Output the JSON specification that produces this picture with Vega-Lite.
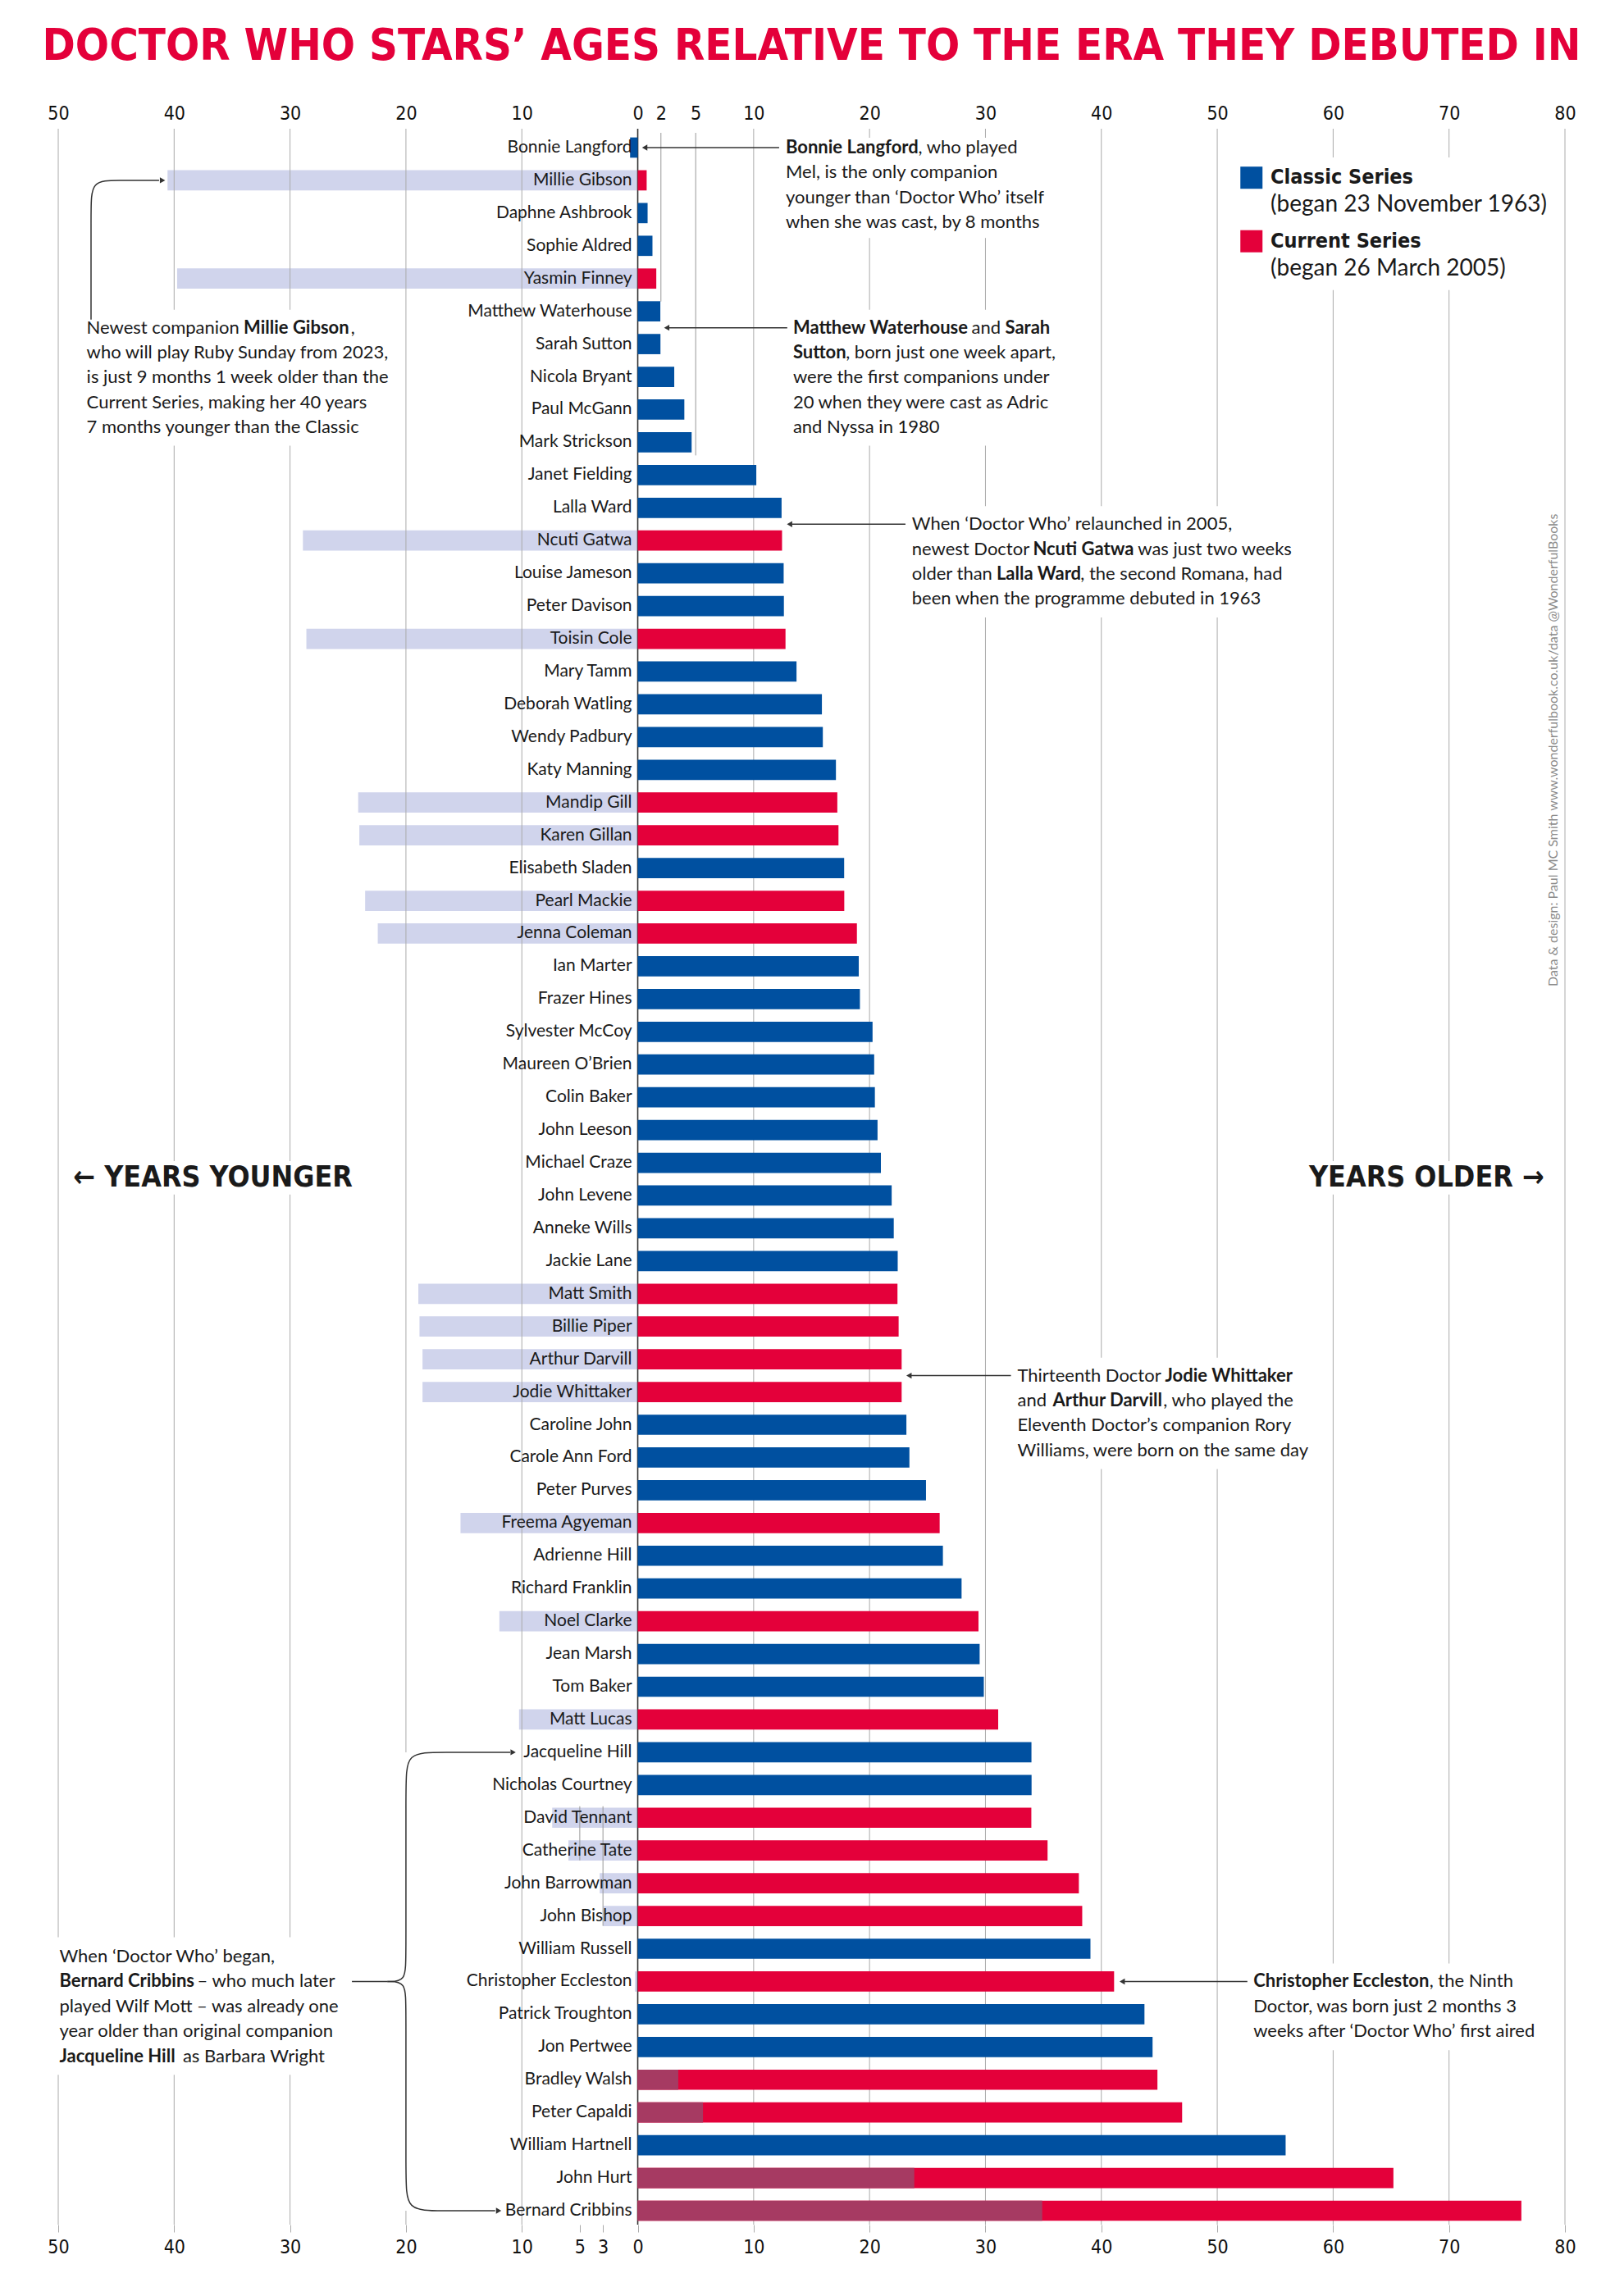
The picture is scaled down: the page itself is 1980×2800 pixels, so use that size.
{
  "$schema": "https://vega.github.io/schema/vega-lite/v6.json",
  "width": 1837,
  "height": 2556,
  "autosize": {"type": "none"},
  "padding": {"left": 71, "top": 157, "right": 72, "bottom": 87},
  "background": "#ffffff",
  "config": {"view": {"stroke": null}, "text": {"font": "Lato"}},
  "title": {
    "text": "DOCTOR WHO STARS’ AGES RELATIVE TO THE ERA THEY DEBUTED IN",
    "font": "DejaVu Sans Condensed, Roboto, sans-serif",
    "fontWeight": "bold",
    "fontSize": 54,
    "color": "#e4003a",
    "anchor": "middle",
    "baseline": "alphabetic",
    "offset": 0
  },
  "datasets": {
    "stars": [
      {"name": "Bonnie Langford", "series": "Classic", "age": -0.66},
      {"name": "Millie Gibson", "series": "Current", "age": 0.77, "vs": -40.57},
      {"name": "Daphne Ashbrook", "series": "Classic", "age": 0.85},
      {"name": "Sophie Aldred", "series": "Classic", "age": 1.27},
      {"name": "Yasmin Finney", "series": "Current", "age": 1.6, "vs": -39.74},
      {"name": "Matthew Waterhouse", "series": "Classic", "age": 1.95},
      {"name": "Sarah Sutton", "series": "Classic", "age": 1.96},
      {"name": "Nicola Bryant", "series": "Classic", "age": 3.15},
      {"name": "Paul McGann", "series": "Classic", "age": 4.02},
      {"name": "Mark Strickson", "series": "Classic", "age": 4.65},
      {"name": "Janet Fielding", "series": "Classic", "age": 10.23},
      {"name": "Lalla Ward", "series": "Classic", "age": 12.41},
      {"name": "Ncuti Gatwa", "series": "Current", "age": 12.45, "vs": -28.89},
      {"name": "Louise Jameson", "series": "Classic", "age": 12.59},
      {"name": "Peter Davison", "series": "Classic", "age": 12.61},
      {"name": "Toisin Cole", "series": "Current", "age": 12.75, "vs": -28.59},
      {"name": "Mary Tamm", "series": "Classic", "age": 13.7},
      {"name": "Deborah Watling", "series": "Classic", "age": 15.89},
      {"name": "Wendy Padbury", "series": "Classic", "age": 15.97},
      {"name": "Katy Manning", "series": "Classic", "age": 17.1},
      {"name": "Mandip Gill", "series": "Current", "age": 17.22, "vs": -24.12},
      {"name": "Karen Gillan", "series": "Current", "age": 17.32, "vs": -24.02},
      {"name": "Elisabeth Sladen", "series": "Classic", "age": 17.81},
      {"name": "Pearl Mackie", "series": "Current", "age": 17.82, "vs": -23.52},
      {"name": "Jenna Coleman", "series": "Current", "age": 18.91, "vs": -22.43},
      {"name": "Ian Marter", "series": "Classic", "age": 19.07},
      {"name": "Frazer Hines", "series": "Classic", "age": 19.17},
      {"name": "Sylvester McCoy", "series": "Classic", "age": 20.26},
      {"name": "Maureen O’Brien", "series": "Classic", "age": 20.4},
      {"name": "Colin Baker", "series": "Classic", "age": 20.46},
      {"name": "John Leeson", "series": "Classic", "age": 20.69},
      {"name": "Michael Craze", "series": "Classic", "age": 20.98},
      {"name": "John Levene", "series": "Classic", "age": 21.91},
      {"name": "Anneke Wills", "series": "Classic", "age": 22.09},
      {"name": "Jackie Lane", "series": "Classic", "age": 22.43},
      {"name": "Matt Smith", "series": "Current", "age": 22.41, "vs": -18.93},
      {"name": "Billie Piper", "series": "Current", "age": 22.51, "vs": -18.83},
      {"name": "Arthur Darvill", "series": "Current", "age": 22.77, "vs": -18.57},
      {"name": "Jodie Whittaker", "series": "Current", "age": 22.77, "vs": -18.57},
      {"name": "Caroline John", "series": "Classic", "age": 23.18},
      {"name": "Carole Ann Ford", "series": "Classic", "age": 23.44},
      {"name": "Peter Purves", "series": "Classic", "age": 24.87},
      {"name": "Freema Agyeman", "series": "Current", "age": 26.05, "vs": -15.29},
      {"name": "Adrienne Hill", "series": "Classic", "age": 26.33},
      {"name": "Richard Franklin", "series": "Classic", "age": 27.94},
      {"name": "Noel Clarke", "series": "Current", "age": 29.4, "vs": -11.94},
      {"name": "Jean Marsh", "series": "Classic", "age": 29.5},
      {"name": "Tom Baker", "series": "Classic", "age": 29.86},
      {"name": "Matt Lucas", "series": "Current", "age": 31.1, "vs": -10.24},
      {"name": "Jacqueline Hill", "series": "Classic", "age": 33.97},
      {"name": "Nicholas Courtney", "series": "Classic", "age": 33.98},
      {"name": "David Tennant", "series": "Current", "age": 33.96, "vs": -7.38},
      {"name": "Catherine Tate", "series": "Current", "age": 35.36, "vs": -5.98},
      {"name": "John Barrowman", "series": "Current", "age": 38.06, "vs": -3.28},
      {"name": "John Bishop", "series": "Current", "age": 38.35, "vs": -2.99},
      {"name": "William Russell", "series": "Classic", "age": 39.06},
      {"name": "Christopher Eccleston", "series": "Current", "age": 41.1, "vs": -0.24},
      {"name": "Patrick Troughton", "series": "Classic", "age": 43.72},
      {"name": "Jon Pertwee", "series": "Classic", "age": 44.42},
      {"name": "Bradley Walsh", "series": "Current", "age": 44.84, "vs": 3.5},
      {"name": "Peter Capaldi", "series": "Current", "age": 46.97, "vs": 5.63},
      {"name": "William Hartnell", "series": "Classic", "age": 55.9},
      {"name": "John Hurt", "series": "Current", "age": 65.2, "vs": 23.86},
      {"name": "Bernard Cribbins", "series": "Current", "age": 76.24, "vs": 34.9}
    ],
    "notes": [
      {"t": "Bonnie Langford", "x": 12.77, "row": 1.0, "b": 1},
      {"t": ", who played", "x": 24.2, "row": 1.0, "b": 0},
      {"t": "Mel, is the only companion", "x": 12.77, "row": 1.76, "b": 0},
      {"t": "younger than ‘Doctor Who’ itself", "x": 12.77, "row": 2.52, "b": 0},
      {"t": "when she was cast, by 8 months", "x": 12.77, "row": 3.28, "b": 0},
      {"t": "Matthew Waterhouse", "x": 13.4, "row": 6.5, "b": 1},
      {"t": "and", "x": 28.8, "row": 6.5, "b": 0},
      {"t": "Sarah", "x": 31.7, "row": 6.5, "b": 1},
      {"t": "Sutton", "x": 13.4, "row": 7.26, "b": 1},
      {"t": ", born just one week apart,", "x": 17.95, "row": 7.26, "b": 0},
      {"t": "were the first companions under", "x": 13.4, "row": 8.02, "b": 0},
      {"t": "20 when they were cast as Adric", "x": 13.4, "row": 8.78, "b": 0},
      {"t": "and Nyssa in 1980", "x": 13.4, "row": 9.54, "b": 0},
      {"t": "Newest companion", "x": -47.55, "row": 6.5, "b": 0},
      {"t": "Millie Gibson", "x": -34.0, "row": 6.5, "b": 1},
      {"t": ",", "x": -24.75, "row": 6.5, "b": 0},
      {"t": "who will play Ruby Sunday from 2023,", "x": -47.55, "row": 7.26, "b": 0},
      {"t": "is just 9 months 1 week older than the", "x": -47.55, "row": 8.02, "b": 0},
      {"t": "Current Series, making her 40 years", "x": -47.55, "row": 8.78, "b": 0},
      {"t": "7 months younger than the Classic", "x": -47.55, "row": 9.54, "b": 0},
      {"t": "When ‘Doctor Who’ relaunched in 2005,", "x": 23.65, "row": 12.5, "b": 0},
      {"t": "newest Doctor", "x": 23.65, "row": 13.26, "b": 0},
      {"t": "Ncuti Gatwa", "x": 34.1, "row": 13.26, "b": 1},
      {"t": "was just two weeks", "x": 43.15, "row": 13.26, "b": 0},
      {"t": "older than", "x": 23.65, "row": 14.02, "b": 0},
      {"t": "Lalla Ward", "x": 30.95, "row": 14.02, "b": 1},
      {"t": ", the second Romana, had", "x": 38.2, "row": 14.02, "b": 0},
      {"t": "been when the programme debuted in 1963", "x": 23.65, "row": 14.78, "b": 0},
      {"t": "Thirteenth Doctor", "x": 32.76, "row": 38.5, "b": 0},
      {"t": "Jodie Whittaker", "x": 45.5, "row": 38.5, "b": 1},
      {"t": "and", "x": 32.76, "row": 39.26, "b": 0},
      {"t": "Arthur Darvill", "x": 35.8, "row": 39.26, "b": 1},
      {"t": ", who played the", "x": 45.35, "row": 39.26, "b": 0},
      {"t": "Eleventh Doctor’s companion Rory", "x": 32.76, "row": 40.02, "b": 0},
      {"t": "Williams, were born on the same day", "x": 32.76, "row": 40.78, "b": 0},
      {"t": "Christopher Eccleston", "x": 53.12, "row": 57.0, "b": 1},
      {"t": ", the Ninth", "x": 68.3, "row": 57.0, "b": 0},
      {"t": "Doctor, was born just 2 months 3", "x": 53.12, "row": 57.76, "b": 0},
      {"t": "weeks after ‘Doctor Who’ first aired", "x": 53.12, "row": 58.52, "b": 0},
      {"t": "When ‘Doctor Who’ began,", "x": -49.9, "row": 56.24, "b": 0},
      {"t": "Bernard Cribbins", "x": -49.9, "row": 57.0, "b": 1},
      {"t": "– who much later", "x": -38.0, "row": 57.0, "b": 0},
      {"t": "played Wilf Mott – was already one", "x": -49.9, "row": 57.76, "b": 0},
      {"t": "year older than original companion", "x": -49.9, "row": 58.52, "b": 0},
      {"t": "Jacqueline Hill", "x": -49.9, "row": 59.28, "b": 1},
      {"t": "as Barbara Wright", "x": -39.25, "row": 59.28, "b": 0}
    ],
    "masks": [
      {"x1": 15, "x2": 35, "r1": 0.7, "r2": 3.76},
      {"x1": 15, "x2": 35, "r1": 5.95, "r2": 10.1},
      {"x1": 55, "x2": 75, "r1": 1.3, "r2": 5.35},
      {"x1": -45, "x2": -25, "r1": 5.95, "r2": 10.1},
      {"x1": 25, "x2": 55, "r1": 11.95, "r2": 15.35},
      {"x1": -45, "x2": -25, "r1": 31.95, "r2": 32.97},
      {"x1": 55, "x2": 75, "r1": 31.95, "r2": 32.97},
      {"x1": 35, "x2": 55, "r1": 37.95, "r2": 41.35},
      {"x1": 55, "x2": 75, "r1": 56.45, "r2": 59.1},
      {"x1": -51, "x2": -25, "r1": 55.65, "r2": 59.85},
      {"x1": -20.5, "x2": -19.5, "r1": 50.0, "r2": 64.0}
    ],
    "arrows": [
      {"x1": 12.2, "x2": 0.8, "row": 1.0},
      {"x1": 12.9, "x2": 2.7, "row": 6.5},
      {"x1": 23.1, "x2": 13.3, "row": 12.5},
      {"x1": 32.2, "x2": 23.6, "row": 38.5},
      {"x1": 52.6, "x2": 42.0, "row": 57.0},
      {"x1": -24.66, "x2": -21.6, "row": 57.0}
    ],
    "tips": [
      {"x": 0.6, "row": 1.0, "dir": "L"},
      {"x": 2.5, "row": 6.5, "dir": "L"},
      {"x": 13.1, "row": 12.5, "dir": "L"},
      {"x": 23.4, "row": 38.5, "dir": "L"},
      {"x": 41.8, "row": 57.0, "dir": "L"},
      {"x": -41.0, "row": 2.0, "dir": "R"},
      {"x": -10.75, "row": 50.0, "dir": "R"},
      {"x": -12.0, "row": 64.0, "dir": "R"}
    ],
    "curves": [
      {"part": "m", "i": 0, "x": -47.17, "row": 6.25},
      {"part": "m", "i": 1, "x": -47.17, "row": 2.9},
      {"part": "m", "i": 2, "x": -47.17, "row": 2.0},
      {"part": "m", "i": 3, "x": -44.9, "row": 2.0},
      {"part": "m", "i": 4, "x": -41.3, "row": 2.0},
      {"part": "t", "i": 0, "x": -11.0, "row": 50.0},
      {"part": "t", "i": 1, "x": -17.0, "row": 50.0},
      {"part": "t", "i": 2, "x": -20.0, "row": 50.0},
      {"part": "t", "i": 3, "x": -20.0, "row": 51.0},
      {"part": "t", "i": 4, "x": -20.0, "row": 56.25},
      {"part": "t", "i": 5, "x": -20.0, "row": 57.0},
      {"part": "t", "i": 6, "x": -21.6, "row": 57.0},
      {"part": "u", "i": 0, "x": -21.6, "row": 57.0},
      {"part": "u", "i": 1, "x": -20.0, "row": 57.0},
      {"part": "u", "i": 2, "x": -20.0, "row": 57.75},
      {"part": "u", "i": 3, "x": -20.0, "row": 63.0},
      {"part": "u", "i": 4, "x": -20.0, "row": 64.0},
      {"part": "u", "i": 5, "x": -17.0, "row": 64.0},
      {"part": "u", "i": 6, "x": -12.3, "row": 64.0}
    ],
    "legend": [
      {"series": "Classic", "x": 52.95, "row": 1.92},
      {"series": "Current", "x": 52.95, "row": 3.86}
    ],
    "legendText": [
      {"t": "Classic Series", "x": 54.6, "row": 1.91, "b": 1},
      {"t": "(began 23 November 1963)", "x": 54.6, "row": 2.75, "b": 0},
      {"t": "Current Series", "x": 54.6, "row": 3.86, "b": 1},
      {"t": "(began 26 March 2005)", "x": 54.6, "row": 4.7, "b": 0}
    ]
  },
  "layer": [
    {
      "data": {"name": "stars"},
      "transform": [
        {"window": [{"op": "row_number", "as": "row"}]},
        {"filter": "isValid(datum.vs) && datum.vs < 0"}
      ],
      "mark": {"type": "bar", "size": 24.7, "color": "#d0d4ec"},
      "encoding": {
        "x": {"field": "vs", "type": "quantitative", "scale": {"domain": [-50, 80], "nice": false, "zero": false}, "axis": null},
        "x2": {"datum": 0},
        "y": {"field": "row", "type": "quantitative", "scale": {"domain": [0.55, 64.3], "reverse": true, "nice": false, "zero": false}, "axis": null}
      }
    },
    {
      "data": {"values": [{"x": -50}, {"x": -40}, {"x": -30}, {"x": -20}, {"x": -10}, {"x": 10}, {"x": 20}, {"x": 30}, {"x": 40}, {"x": 50}, {"x": 60}, {"x": 70}, {"x": 80}]},
      "mark": {"type": "rule", "color": "#aaaaaa", "strokeWidth": 1},
      "encoding": {
        "x": {
          "field": "x", "type": "quantitative",
          "scale": {"domain": [-50, 80], "nice": false, "zero": false},
          "axis": {
            "orient": "top",
            "values": [-50, -40, -30, -20, -10, 0, 2, 5, 10, 20, 30, 40, 50, 60, 70, 80],
            "labelExpr": "abs(datum.value)",
            "grid": false, "domain": false, "ticks": false, "tickSize": 0,
            "labelPadding": 7,
            "labelFont": "DejaVu Sans Condensed, Roboto, sans-serif", "labelFontSize": 23, "labelColor": "#111111",
            "labelOverlap": false, "labelFlush": false, "labelBound": false,
            "title": null
          }
        }
      }
    },
    {
      "data": {"values": [
        {"x": 2, "r1": 0.55, "r2": 5.7},
        {"x": 5, "r1": 0.55, "r2": 10.4},
        {"x": -5, "r1": 51.65, "r2": 53.3},
        {"x": -3, "r1": 51.65, "r2": 55.3}
      ]},
      "mark": {"type": "rule", "color": "#999999", "strokeWidth": 1},
      "encoding": {
        "x": {"field": "x", "type": "quantitative", "scale": {"domain": [-50, 80], "nice": false, "zero": false}, "axis": null},
        "y": {"field": "r1", "type": "quantitative", "scale": {"domain": [0.55, 64.3], "reverse": true, "nice": false, "zero": false}, "axis": null},
        "y2": {"field": "r2"}
      }
    },
    {
      "data": {"values": [{"x": 0}]},
      "mark": {"type": "rule", "color": "#333333", "strokeWidth": 1.6},
      "encoding": {
        "x": {
          "field": "x", "type": "quantitative",
          "scale": {"domain": [-50, 80], "nice": false, "zero": false},
          "axis": {
            "orient": "bottom",
            "values": [-50, -40, -30, -20, -10, -5, -3, 0, 10, 20, 30, 40, 50, 60, 70, 80],
            "labelExpr": "abs(datum.value)",
            "grid": false, "domain": false, "ticks": true, "tickSize": 9, "tickColor": "#aaaaaa", "tickWidth": 1,
            "labelPadding": 7,
            "labelFont": "DejaVu Sans Condensed, Roboto, sans-serif", "labelFontSize": 23, "labelColor": "#111111",
            "labelOverlap": false, "labelFlush": false, "labelBound": false,
            "title": null
          }
        }
      }
    },
    {
      "data": {"name": "masks"},
      "mark": {"type": "rect", "color": "#ffffff"},
      "encoding": {
        "x": {"field": "x1", "type": "quantitative", "scale": {"domain": [-50, 80], "nice": false, "zero": false}, "axis": null},
        "x2": {"field": "x2"},
        "y": {"field": "r1", "type": "quantitative", "scale": {"domain": [0.55, 64.3], "reverse": true, "nice": false, "zero": false}, "axis": null},
        "y2": {"field": "r2"}
      }
    },
    {
      "data": {"name": "stars"},
      "transform": [{"window": [{"op": "row_number", "as": "row"}]}],
      "mark": {"type": "bar", "size": 24.7},
      "encoding": {
        "x": {"field": "age", "type": "quantitative", "scale": {"domain": [-50, 80], "nice": false, "zero": false}, "axis": null},
        "x2": {"datum": 0},
        "y": {"field": "row", "type": "quantitative", "scale": {"domain": [0.55, 64.3], "reverse": true, "nice": false, "zero": false}, "axis": null},
        "color": {"field": "series", "type": "nominal", "scale": {"domain": ["Classic", "Current"], "range": ["#0050a0", "#e4003a"]}, "legend": null}
      }
    },
    {
      "data": {"name": "stars"},
      "transform": [
        {"window": [{"op": "row_number", "as": "row"}]},
        {"filter": "isValid(datum.vs) && datum.vs > 0"}
      ],
      "mark": {"type": "bar", "size": 24.7, "color": "#a63a62"},
      "encoding": {
        "x": {"field": "vs", "type": "quantitative", "scale": {"domain": [-50, 80], "nice": false, "zero": false}, "axis": null},
        "x2": {"datum": 0},
        "y": {"field": "row", "type": "quantitative", "scale": {"domain": [0.55, 64.3], "reverse": true, "nice": false, "zero": false}, "axis": null}
      }
    },
    {
      "data": {"name": "stars"},
      "transform": [{"window": [{"op": "row_number", "as": "row"}]}],
      "mark": {"type": "text", "align": "right", "baseline": "middle", "dx": -7, "font": "Lato", "fontSize": 21, "color": "#1a1a1a"},
      "encoding": {
        "x": {"datum": 0, "type": "quantitative", "scale": {"domain": [-50, 80], "nice": false, "zero": false}, "axis": null},
        "y": {"field": "row", "type": "quantitative", "scale": {"domain": [0.55, 64.3], "reverse": true, "nice": false, "zero": false}, "axis": null},
        "text": {"field": "name"}
      }
    },
    {
      "data": {"name": "notes"},
      "transform": [{"filter": "datum.b == 0"}],
      "mark": {"type": "text", "align": "left", "baseline": "middle", "font": "Lato", "fontSize": 22, "color": "#1a1a1a"},
      "encoding": {
        "x": {"field": "x", "type": "quantitative", "scale": {"domain": [-50, 80], "nice": false, "zero": false}, "axis": null},
        "y": {"field": "row", "type": "quantitative", "scale": {"domain": [0.55, 64.3], "reverse": true, "nice": false, "zero": false}, "axis": null},
        "text": {"field": "t"}
      }
    },
    {
      "data": {"name": "notes"},
      "transform": [{"filter": "datum.b == 1"}],
      "mark": {"type": "text", "align": "left", "baseline": "middle", "font": "Lato", "fontWeight": "bold", "fontSize": 22, "color": "#1a1a1a"},
      "encoding": {
        "x": {"field": "x", "type": "quantitative", "scale": {"domain": [-50, 80], "nice": false, "zero": false}, "axis": null},
        "y": {"field": "row", "type": "quantitative", "scale": {"domain": [0.55, 64.3], "reverse": true, "nice": false, "zero": false}, "axis": null},
        "text": {"field": "t"}
      }
    },
    {
      "data": {"name": "arrows"},
      "mark": {"type": "rule", "color": "#333333", "strokeWidth": 1.5},
      "encoding": {
        "x": {"field": "x1", "type": "quantitative", "scale": {"domain": [-50, 80], "nice": false, "zero": false}, "axis": null},
        "x2": {"field": "x2"},
        "y": {"field": "row", "type": "quantitative", "scale": {"domain": [0.55, 64.3], "reverse": true, "nice": false, "zero": false}, "axis": null}
      }
    },
    {
      "data": {"name": "curves"},
      "mark": {"type": "line", "color": "#333333", "strokeWidth": 1.5, "interpolate": "basis"},
      "encoding": {
        "x": {"field": "x", "type": "quantitative", "scale": {"domain": [-50, 80], "nice": false, "zero": false}, "axis": null},
        "y": {"field": "row", "type": "quantitative", "scale": {"domain": [0.55, 64.3], "reverse": true, "nice": false, "zero": false}, "axis": null},
        "detail": {"field": "part"},
        "order": {"field": "i", "type": "quantitative"}
      }
    },
    {
      "data": {"name": "tips"},
      "mark": {"type": "point", "filled": true, "size": 55, "color": "#333333", "opacity": 1},
      "encoding": {
        "x": {"field": "x", "type": "quantitative", "scale": {"domain": [-50, 80], "nice": false, "zero": false}, "axis": null},
        "y": {"field": "row", "type": "quantitative", "scale": {"domain": [0.55, 64.3], "reverse": true, "nice": false, "zero": false}, "axis": null},
        "shape": {"field": "dir", "type": "nominal", "scale": {"domain": ["L", "R"], "range": ["triangle-left", "triangle-right"]}, "legend": null}
      }
    },
    {
      "data": {"name": "legend"},
      "mark": {"type": "point", "filled": true, "shape": "square", "size": 729, "opacity": 1},
      "encoding": {
        "x": {"field": "x", "type": "quantitative", "scale": {"domain": [-50, 80], "nice": false, "zero": false}, "axis": null},
        "y": {"field": "row", "type": "quantitative", "scale": {"domain": [0.55, 64.3], "reverse": true, "nice": false, "zero": false}, "axis": null},
        "color": {"field": "series", "type": "nominal", "scale": {"domain": ["Classic", "Current"], "range": ["#0050a0", "#e4003a"]}, "legend": null}
      }
    },
    {
      "data": {"name": "legendText"},
      "transform": [{"filter": "datum.b == 1"}],
      "mark": {"type": "text", "align": "left", "baseline": "middle", "font": "DejaVu Sans Condensed, Roboto, sans-serif", "fontWeight": "bold", "fontSize": 25, "color": "#1a1a1a"},
      "encoding": {
        "x": {"field": "x", "type": "quantitative", "scale": {"domain": [-50, 80], "nice": false, "zero": false}, "axis": null},
        "y": {"field": "row", "type": "quantitative", "scale": {"domain": [0.55, 64.3], "reverse": true, "nice": false, "zero": false}, "axis": null},
        "text": {"field": "t"}
      }
    },
    {
      "data": {"name": "legendText"},
      "transform": [{"filter": "datum.b == 0"}],
      "mark": {"type": "text", "align": "left", "baseline": "middle", "font": "Lato", "fontSize": 28, "color": "#1a1a1a"},
      "encoding": {
        "x": {"field": "x", "type": "quantitative", "scale": {"domain": [-50, 80], "nice": false, "zero": false}, "axis": null},
        "y": {"field": "row", "type": "quantitative", "scale": {"domain": [0.55, 64.3], "reverse": true, "nice": false, "zero": false}, "axis": null},
        "text": {"field": "t"}
      }
    },
    {
      "data": {"values": [
        {"t": "← YEARS YOUNGER", "x": -48.7, "row": 32.46},
        {"t": "YEARS OLDER →", "x": 57.92, "row": 32.46}
      ]},
      "mark": {"type": "text", "align": "left", "baseline": "middle", "font": "DejaVu Sans Condensed, Roboto, sans-serif", "fontWeight": "bold", "fontSize": 35.5, "color": "#1a1a1a"},
      "encoding": {
        "x": {"field": "x", "type": "quantitative", "scale": {"domain": [-50, 80], "nice": false, "zero": false}, "axis": null},
        "y": {"field": "row", "type": "quantitative", "scale": {"domain": [0.55, 64.3], "reverse": true, "nice": false, "zero": false}, "axis": null},
        "text": {"field": "t"}
      }
    },
    {
      "data": {"values": [
        {"t": "Data & design: Paul MC Smith   www.wonderfulbook.co.uk/data   @WonderfulBooks", "x": 79.0, "row": 19.4}
      ]},
      "mark": {"type": "text", "align": "center", "baseline": "middle", "angle": 270, "font": "Lato", "fontSize": 16, "color": "#8c8c8c"},
      "encoding": {
        "x": {"field": "x", "type": "quantitative", "scale": {"domain": [-50, 80], "nice": false, "zero": false}, "axis": null},
        "y": {"field": "row", "type": "quantitative", "scale": {"domain": [0.55, 64.3], "reverse": true, "nice": false, "zero": false}, "axis": null},
        "text": {"field": "t"}
      }
    }
  ]
}
